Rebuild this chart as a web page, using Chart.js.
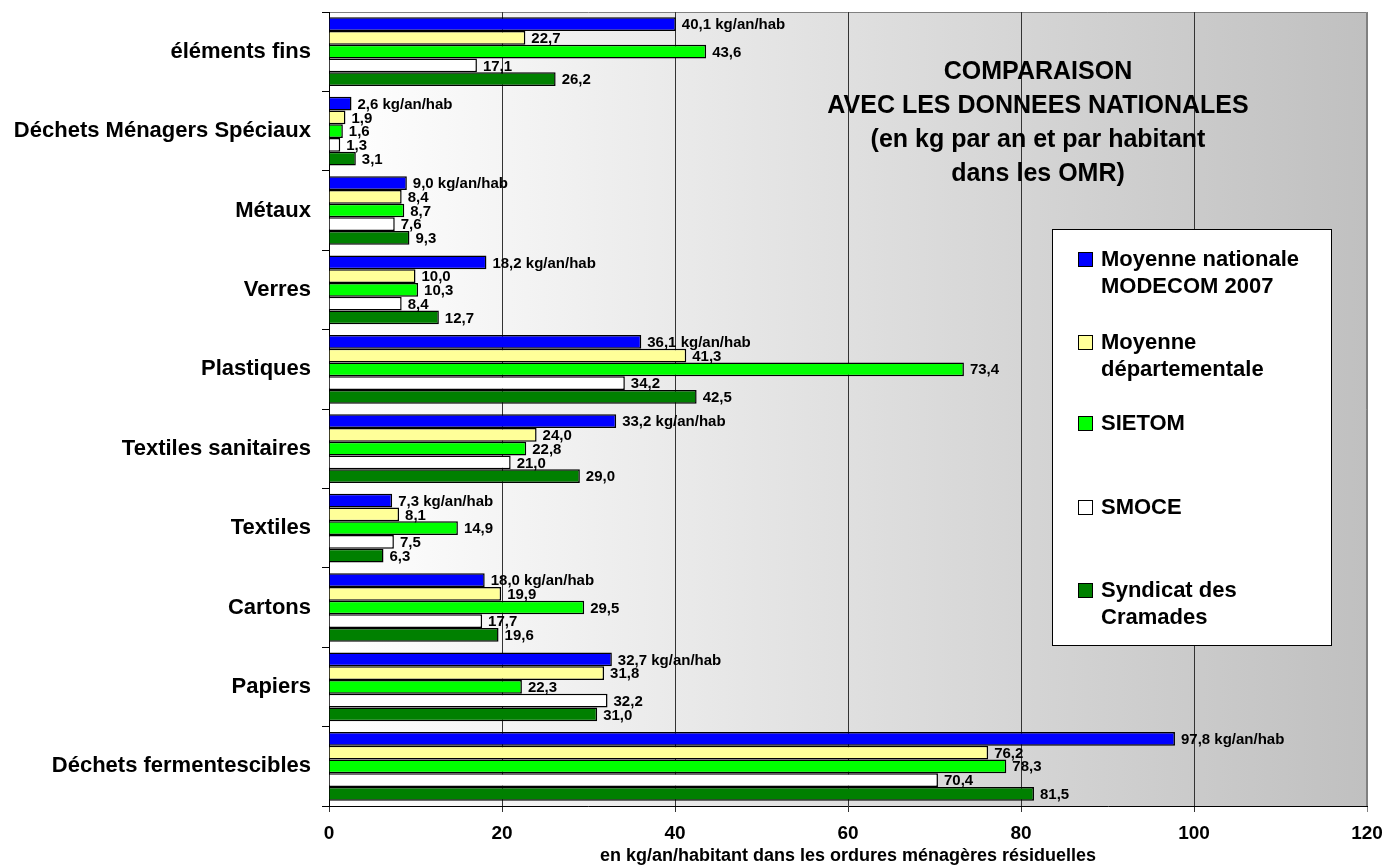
<!DOCTYPE html>
<html lang="fr">
<head>
<meta charset="utf-8">
<title>Comparaison avec les données nationales</title>
<script src="https://cdn.jsdelivr.net/npm/chart.js@4"></script>
<style>
  html, body { margin: 0; padding: 0; background: #fff; }
  #wrap { width: 1388px; height: 868px; }
</style>
</head>
<body>
<div id="wrap"><canvas id="omr" width="1388" height="868"></canvas></div>
<script>
// data
const categories = ['éléments fins', 'Déchets Ménagers Spéciaux', 'Métaux', 'Verres', 'Plastiques',
  'Textiles sanitaires', 'Textiles', 'Cartons', 'Papiers', 'Déchets fermentescibles'];
const nationale = [40.1, 2.6, 9.0, 18.2, 36.1, 33.2, 7.3, 18.0, 32.7, 97.8];
const departementale = [22.7, 1.9, 8.4, 10.0, 41.3, 24.0, 8.1, 19.9, 31.8, 76.2];
const sietom = [43.6, 1.6, 8.7, 10.3, 73.4, 22.8, 14.9, 29.5, 22.3, 78.3];
const smoce = [17.1, 1.3, 7.6, 8.4, 34.2, 21.0, 7.5, 17.7, 32.2, 70.4];
const cramades = [26.2, 3.1, 9.3, 12.7, 42.5, 29.0, 6.3, 19.6, 31.0, 81.5];
const seriesNames = [['Moyenne nationale', 'MODECOM 2007'], ['Moyenne', 'départementale'],
  ['SIETOM'], ['SMOCE'], ['Syndicat des', 'Cramades']];
const xMax = 120;
const xStep = 20;
const titleLines = ['COMPARAISON', 'AVEC LES DONNEES NATIONALES', '(en kg par an et par habitant', 'dans les OMR)'];
const xTitle = 'en kg/an/habitant dans les ordures ménagères résiduelles';
const unit = ' kg/an/hab';

const FONT = "'Liberation Sans', Arial, Helvetica, sans-serif";
const colors = ['#0000ff', '#ffff99', '#00ff00', '#ffffff', '#008000'];
const fmt = v => v.toFixed(1).replace('.', ',');

// keep the plot area exactly where the layout padding puts it
function noEdgePadding(scale) {
  scale.paddingLeft = 0;
  scale.paddingRight = 0;
  scale.paddingTop = 0;
  scale.paddingBottom = 0;
}

// gradient background + grey frame of the plot area
const plotBg = {
  id: 'plotBg',
  beforeDraw(chart) {
    const { ctx, chartArea: a } = chart;
    const g = ctx.createLinearGradient(a.left, 0, a.right, 0);
    g.addColorStop(0, '#ffffff');
    g.addColorStop(1, '#c0c0c0');
    ctx.save();
    ctx.fillStyle = g;
    ctx.fillRect(a.left, a.top, a.right - a.left, a.bottom - a.top);
    ctx.strokeStyle = '#808080';
    ctx.lineWidth = 1;
    ctx.beginPath();
    ctx.moveTo(a.left, a.top + 0.5);
    ctx.lineTo(a.right - 0.5, a.top + 0.5);
    ctx.lineTo(a.right - 0.5, a.bottom);
    ctx.stroke();
    ctx.restore();
  }
};

// value labels at the end of each bar
const valueLabels = {
  id: 'valueLabels',
  afterDatasetsDraw(chart) {
    const { ctx } = chart;
    ctx.save();
    ctx.font = `bold 15px ${FONT}`;
    ctx.fillStyle = '#000';
    ctx.textAlign = 'left';
    ctx.textBaseline = 'middle';
    chart.data.datasets.forEach((ds, di) => {
      chart.getDatasetMeta(di).data.forEach((bar, i) => {
        const txt = fmt(ds.data[i]) + (di === 0 ? unit : '');
        ctx.fillText(txt, bar.x + 6, bar.y + 1);
      });
    });
    ctx.restore();
  }
};

// inner title and boxed legend
const overlay = {
  id: 'overlay',
  afterDraw(chart) {
    const { ctx } = chart;
    ctx.save();
    ctx.fillStyle = '#000';
    ctx.textAlign = 'center';
    ctx.textBaseline = 'middle';
    ctx.font = `bold 25px ${FONT}`;
    titleLines.forEach((t, i) => ctx.fillText(t, 1038, 72 + i * 34));

    // legend box
    ctx.fillStyle = '#fff';
    ctx.fillRect(1052, 229, 279, 416);
    ctx.strokeStyle = '#000';
    ctx.lineWidth = 1;
    ctx.strokeRect(1052.5, 229.5, 279, 416);

    const rows = [259, 342, 423, 507, 590];
    ctx.font = `bold 22px ${FONT}`;
    ctx.textAlign = 'left';
    chart.data.datasets.forEach((ds, di) => {
      const y = rows[di];
      ctx.fillStyle = ds.backgroundColor;
      ctx.fillRect(1078, y - 7, 14, 14);
      ctx.strokeStyle = '#000';
      ctx.strokeRect(1078.5, y - 6.5, 14, 14);
      ctx.fillStyle = '#000';
      seriesNames[di].forEach((line, k) => ctx.fillText(line, 1101, y + 1 + k * 27));
    });
    ctx.restore();
  }
};

const seriesData = [nationale, departementale, sietom, smoce, cramades];

new Chart(document.getElementById('omr'), {
  type: 'bar',
  data: {
    labels: categories,
    datasets: seriesData.map((d, i) => ({
      label: seriesNames[i].join(' '),
      data: d,
      backgroundColor: colors[i],
      borderColor: '#000',
      borderWidth: 1.5,
      categoryPercentage: 0.865,
      barPercentage: 1.0
    }))
  },
  options: {
    indexAxis: 'y',
    responsive: false,
    animation: false,
    devicePixelRatio: 1,
    layout: { padding: { top: 12, right: 21, left: 0, bottom: 0 } },
    plugins: {
      legend: { display: false },
      tooltip: { enabled: false }
    },
    scales: {
      x: {
        min: 0,
        max: xMax,
        afterFit(scale) { scale.height = 62; noEdgePadding(scale); },
        ticks: {
          stepSize: xStep,
          color: '#000',
          padding: 10,
          font: { family: FONT, size: 19, weight: 'bold' }
        },
        grid: {
          color: c => (c.tick && c.tick.value === xMax ? '#808080' : '#333'),
          lineWidth: 1,
          tickLength: 6
        },
        border: { color: '#000', width: 1 },
        title: {
          display: true,
          text: xTitle,
          color: '#000',
          padding: { top: 0, bottom: 1 },
          font: { family: FONT, size: 18, weight: 'bold' }
        }
      },
      y: {
        afterFit(scale) { scale.width = 329; noEdgePadding(scale); },
        ticks: {
          color: '#000',
          padding: 11,
          font: { family: FONT, size: 22, weight: 'bold' }
        },
        grid: {
          drawOnChartArea: false,
          color: '#000',
          tickLength: 7
        },
        border: { color: '#000', width: 1 }
      }
    }
  },
  plugins: [plotBg, valueLabels, overlay]
});
</script>
</body>
</html>
